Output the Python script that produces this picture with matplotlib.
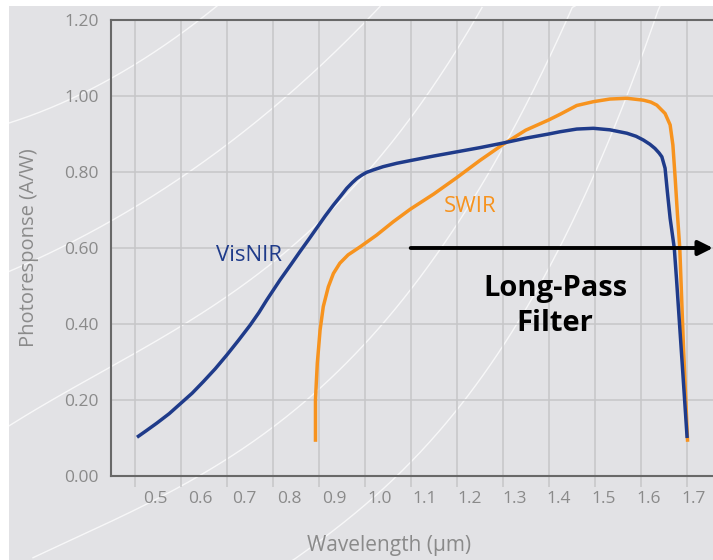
import numpy as np
import matplotlib

matplotlib.use("Agg")
import matplotlib.pyplot as plt
from matplotlib.patches import Rectangle
from matplotlib.lines import Line2D
from matplotlib.transforms import ScaledTranslation

# photoresponse curves, wavelength in µm, response in A/W
visnir_wl = [0.505, 0.525, 0.548, 0.575, 0.600, 0.625, 0.649, 0.675, 0.700, 0.725,
             0.751, 0.770, 0.787, 0.816, 0.840, 0.859, 0.878, 0.896, 0.914, 0.932,
             0.948, 0.961, 0.973, 0.983, 0.994, 1.004, 1.020, 1.040, 1.070, 1.099,
             1.150, 1.200, 1.250, 1.300, 1.350, 1.400, 1.425, 1.461, 1.497, 1.533,
             1.570, 1.590, 1.606, 1.620, 1.631, 1.640, 1.646, 1.653, 1.658, 1.664,
             1.673, 1.678, 1.690, 1.701]
visnir_resp = [0.102, 0.119, 0.139, 0.164, 0.191, 0.218, 0.248, 0.282, 0.318, 0.356,
               0.397, 0.430, 0.463, 0.516, 0.557, 0.590, 0.622, 0.653, 0.684, 0.713,
               0.737, 0.757, 0.772, 0.783, 0.792, 0.799, 0.806, 0.814, 0.823, 0.830,
               0.842, 0.853, 0.864, 0.876, 0.889, 0.900, 0.906, 0.913, 0.915, 0.911,
               0.902, 0.894, 0.884, 0.873, 0.862, 0.850, 0.840, 0.810, 0.748, 0.678,
               0.600, 0.516, 0.300, 0.100]

swir_wl = [0.893, 0.893, 0.895, 0.897, 0.900, 0.903, 0.910, 0.921, 0.932, 0.946,
           0.964, 0.990, 1.026, 1.062, 1.099, 1.150, 1.200, 1.250, 1.300, 1.350,
           1.400, 1.425, 1.461, 1.497, 1.533, 1.570, 1.606, 1.622, 1.635, 1.653,
           1.664, 1.670, 1.675, 1.680, 1.685, 1.693, 1.702]
swir_resp = [0.090, 0.200, 0.250, 0.297, 0.340, 0.384, 0.446, 0.498, 0.533, 0.560,
             0.582, 0.603, 0.634, 0.669, 0.702, 0.742, 0.785, 0.830, 0.872, 0.910,
             0.937, 0.952, 0.975, 0.985, 0.992, 0.994, 0.989, 0.984, 0.976, 0.954,
             0.924, 0.871, 0.783, 0.687, 0.599, 0.340, 0.090]

x_ticks = [0.5, 0.6, 0.7, 0.8, 0.9, 1.0, 1.1, 1.2, 1.3, 1.4, 1.5, 1.6, 1.7]
y_ticks = [0.0, 0.2, 0.4, 0.6, 0.8, 1.0, 1.2]

filter_start = 1.10
filter_level = 0.60

NAVY = "#1f3b8a"
ORANGE = "#f7931e"
PANEL = "#e2e2e5"
GRID = "#c6c6c8"
TEXT = "#8a8a8a"

plt.rcParams["font.family"] = ["Open Sans", "DejaVu Sans"]

W, H = 713, 560
fig = plt.figure(figsize=(W / 100, H / 100), dpi=100)
fig.patch.set_facecolor("white")

# grey backdrop with a few faint swoosh lines
fig.patches.append(Rectangle((9 / W, 0), 1, 1 - 6 / H, transform=fig.transFigure,
                             facecolor=PANEL, edgecolor="none", zorder=-3))
swooshes = [
    [(9, 123), (110, 79), (217, 6)],
    [(9, 271), (100, 229), (187, 171), (300, 86), (380, 6)],
    [(9, 425), (100, 375), (200, 314), (300, 236), (400, 136), (482, 6)],
    [(33, 560), (80, 533), (160, 497), (240, 450), (300, 405), (360, 350),
     (425, 280), (500, 140), (575, 6)],
    [(293, 560), (360, 510), (410, 462), (460, 407), (503, 340), (537, 297),
     (613, 127), (660, 6)],
]
for pts in swooshes:
    px, py = np.array(pts, dtype=float).T
    coef = np.polyfit(px, py, min(3, len(px) - 1))
    xs = np.linspace(px[0], px[-1], 200)
    ys = np.clip(np.polyval(coef, xs), 6, H)
    fig.lines.append(Line2D(xs / W, 1 - ys / H, transform=fig.transFigure,
                            color="white", lw=1.0, alpha=0.75, zorder=-2))

ax = fig.add_axes([111 / W, 84 / H, (W - 111) / W, 456 / H])
ax.set_facecolor("none")
ax.set_xlim(0.4485, 1.7572)
ax.set_ylim(0, 1.2)

ax.set_xticks(x_ticks)
ax.set_xticklabels([f"{t:.1f}" for t in x_ticks])
ax.set_yticks(y_ticks)
ax.set_yticklabels([f"{t:.2f}" for t in y_ticks])
ax.grid(True, color=GRID, lw=1.1)
ax.set_axisbelow(True)
ax.tick_params(axis="x", length=8, width=1.1, color=GRID, pad=3,
               labelsize=12.5, labelcolor=TEXT)
ax.tick_params(axis="y", length=0, pad=9, labelsize=12.5, labelcolor=TEXT)
# wavelength labels sit to the right of their ticks, drifting back toward them
for i, lab in enumerate(ax.get_xticklabels()):
    shift = (20.3 - 1.1 * i) / 100
    lab.set_transform(lab.get_transform() + ScaledTranslation(shift, 0, fig.dpi_scale_trans))

for side in ("left", "bottom", "top"):
    ax.spines[side].set_color("#686868")
    ax.spines[side].set_linewidth(1.5)
ax.spines["right"].set_visible(False)

ax.plot(visnir_wl, visnir_resp, color=NAVY, lw=2.5, solid_capstyle="butt",
        solid_joinstyle="round", zorder=4)
ax.plot(swir_wl, swir_resp, color=ORANGE, lw=2.5, solid_capstyle="butt",
        solid_joinstyle="round", zorder=3)

ax.text(0.748, 0.58, "VisNIR", color=NAVY, fontsize=16, ha="center", va="center")
ax.text(1.229, 0.708, "SWIR", color=ORANGE, fontsize=16, ha="center", va="center")

ax.annotate("", xy=(ax.get_xlim()[1], filter_level), xytext=(filter_start, filter_level),
            arrowprops=dict(arrowstyle="-|>", color="black", lw=2.8,
                            mutation_scale=22, shrinkA=0, shrinkB=0),
            annotation_clip=False, zorder=5)
ax.text(1.414, 0.447, "Long-Pass\nFilter", fontsize=21, fontweight="bold",
        ha="center", va="center", multialignment="center", linespacing=1.3,
        color="black", zorder=5)

ax.set_ylabel("Photoresponse (A/W)", fontsize=14.5, color=TEXT, labelpad=18)
fig.text(389 / W, 1 - 546 / H, "Wavelength (µm)", fontsize=15, color=TEXT,
         ha="center", va="center")

fig.savefig("out.png", dpi=100)
